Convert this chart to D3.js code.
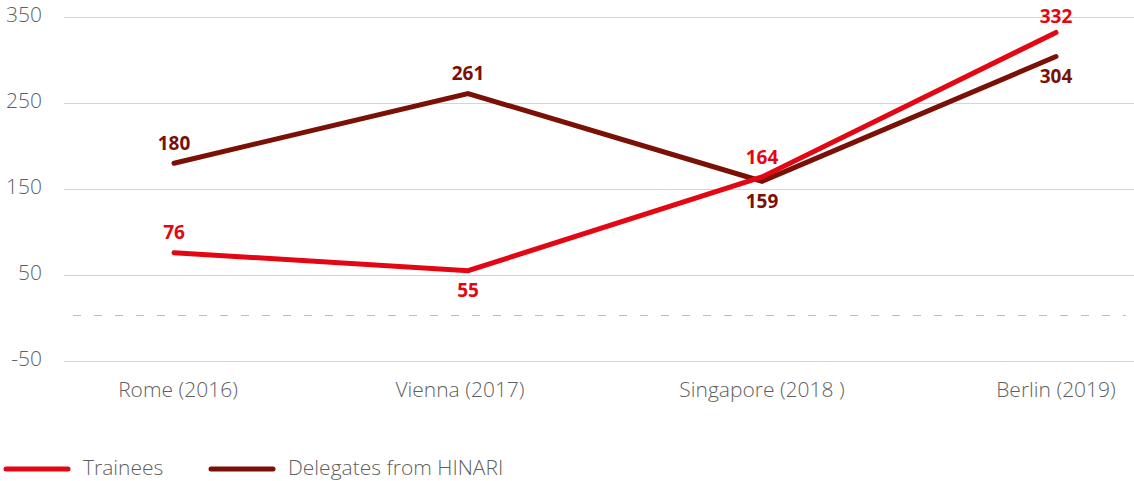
<!DOCTYPE html>
<html>
<head>
<meta charset="utf-8">
<script src="https://cdn.jsdelivr.net/npm/d3@7"></script>
<style>
	body { margin: 0; background: #fff; }
	svg { display: block; font-family: 'Open Sans', sans-serif; }
	.axis text { fill: #5f5f5f; font-size: 21px; font-weight: 300; }
	.label { font-weight: bold; font-size: 19px; }
</style>
</head>
<body>
<div id="chart"></div>
<script>
// data
const categories = ['Rome (2016)', 'Vienna (2017)', 'Singapore (2018 )', 'Berlin (2019)'];
const trainees = [76, 55, 164, 332];
const delegates = [180, 261, 159, 304];
const yTicks = [-50, 50, 150, 250, 350];
const seriesNames = ['Trainees', 'Delegates from HINARI'];
const seriesColors = ['#e30613', '#7a1006'];
// label above (-1) or below (+1) the point
const traineeSide = [-1, 1, -1, -1];
const delegateSide = [-1, -1, 1, 1];

const W = 1134, H = 481;
const svg = d3.select('#chart').append('svg')
	.attr('width', W)
	.attr('height', H);

const x = d3.scalePoint()
	.domain(categories)
	.range([174, 1056]);

const y = d3.scaleLinear()
	.domain([-50, 350])
	.range([361, 17]);

//gridlines
svg.append('g')
	.selectAll('line')
	.data(yTicks)
	.join('line')
	.attr('x1', 64)
	.attr('x2', W)
	.attr('y1', d => y(d) + 0.5)
	.attr('y2', d => y(d) + 0.5)
	.style('stroke', '#d4d4d4')
	.style('stroke-width', 1);

//zero dashed line
svg.append('line')
	.attr('x1', 73)
	.attr('x2', 1126)
	.attr('y1', y(0) - 2.5)
	.attr('y2', y(0) - 2.5)
	.style('stroke', '#bdbdbd')
	.style('stroke-width', 1)
	.style('stroke-dasharray', '8,13');

//y axis labels
svg.append('g').attr('class', 'axis')
	.selectAll('text')
	.data(yTicks)
	.join('text')
	.attr('x', 42)
	.attr('y', d => y(d) - 2)
	.attr('dy', '0.35em')
	.attr('text-anchor', 'end')
	.text(d => d);

//x axis labels
svg.append('g').attr('class', 'axis')
	.selectAll('text')
	.data(categories)
	.join('text')
	.attr('x', (d, i) => x(d) + [4, -8, 0, 0][i])
	.attr('y', 390)
	.attr('dy', '0.35em')
	.attr('text-anchor', 'middle')
	.text(d => d);

const line = d3.line()
	.x((d, i) => x(categories[i]))
	.y(d => y(d));

function addSeries(values, color, sides) {
	svg.append('path')
		.datum(values)
		.attr('fill', 'none')
		.style('stroke', color)
		.style('stroke-width', 5)
		.style('stroke-linecap', 'round')
		.style('stroke-linejoin', 'miter')
		.attr('d', line);

	svg.append('g')
		.selectAll('text')
		.data(values)
		.join('text')
		.attr('class', 'label')
		.attr('x', (d, i) => x(categories[i]))
		.attr('y', (d, i) => Math.max(16, y(d) + sides[i] * 20))
		.attr('dy', '0.35em')
		.attr('text-anchor', 'middle')
		.style('fill', color)
		.text(d => d);
}

addSeries(delegates, seriesColors[1], delegateSide);
addSeries(trainees, seriesColors[0], traineeSide);

//legend
const legend = svg.append('g')
	.selectAll('g')
	.data(seriesNames)
	.join('g')
	.attr('transform', (d, i) => 'translate(' + [6, 211][i] + ',469)');

legend.append('line')
	.attr('x1', 0)
	.attr('x2', 62)
	.style('stroke', (d, i) => seriesColors[i])
	.style('stroke-width', 5)
	.style('stroke-linecap', 'round');

legend.append('text')
	.attr('x', 77)
	.attr('dy', '0.3em')
	.style('fill', '#5f5f5f')
	.style('font-size', '21px')
	.style('font-weight', 300)
	.text(d => d);
</script>
</body>
</html>
